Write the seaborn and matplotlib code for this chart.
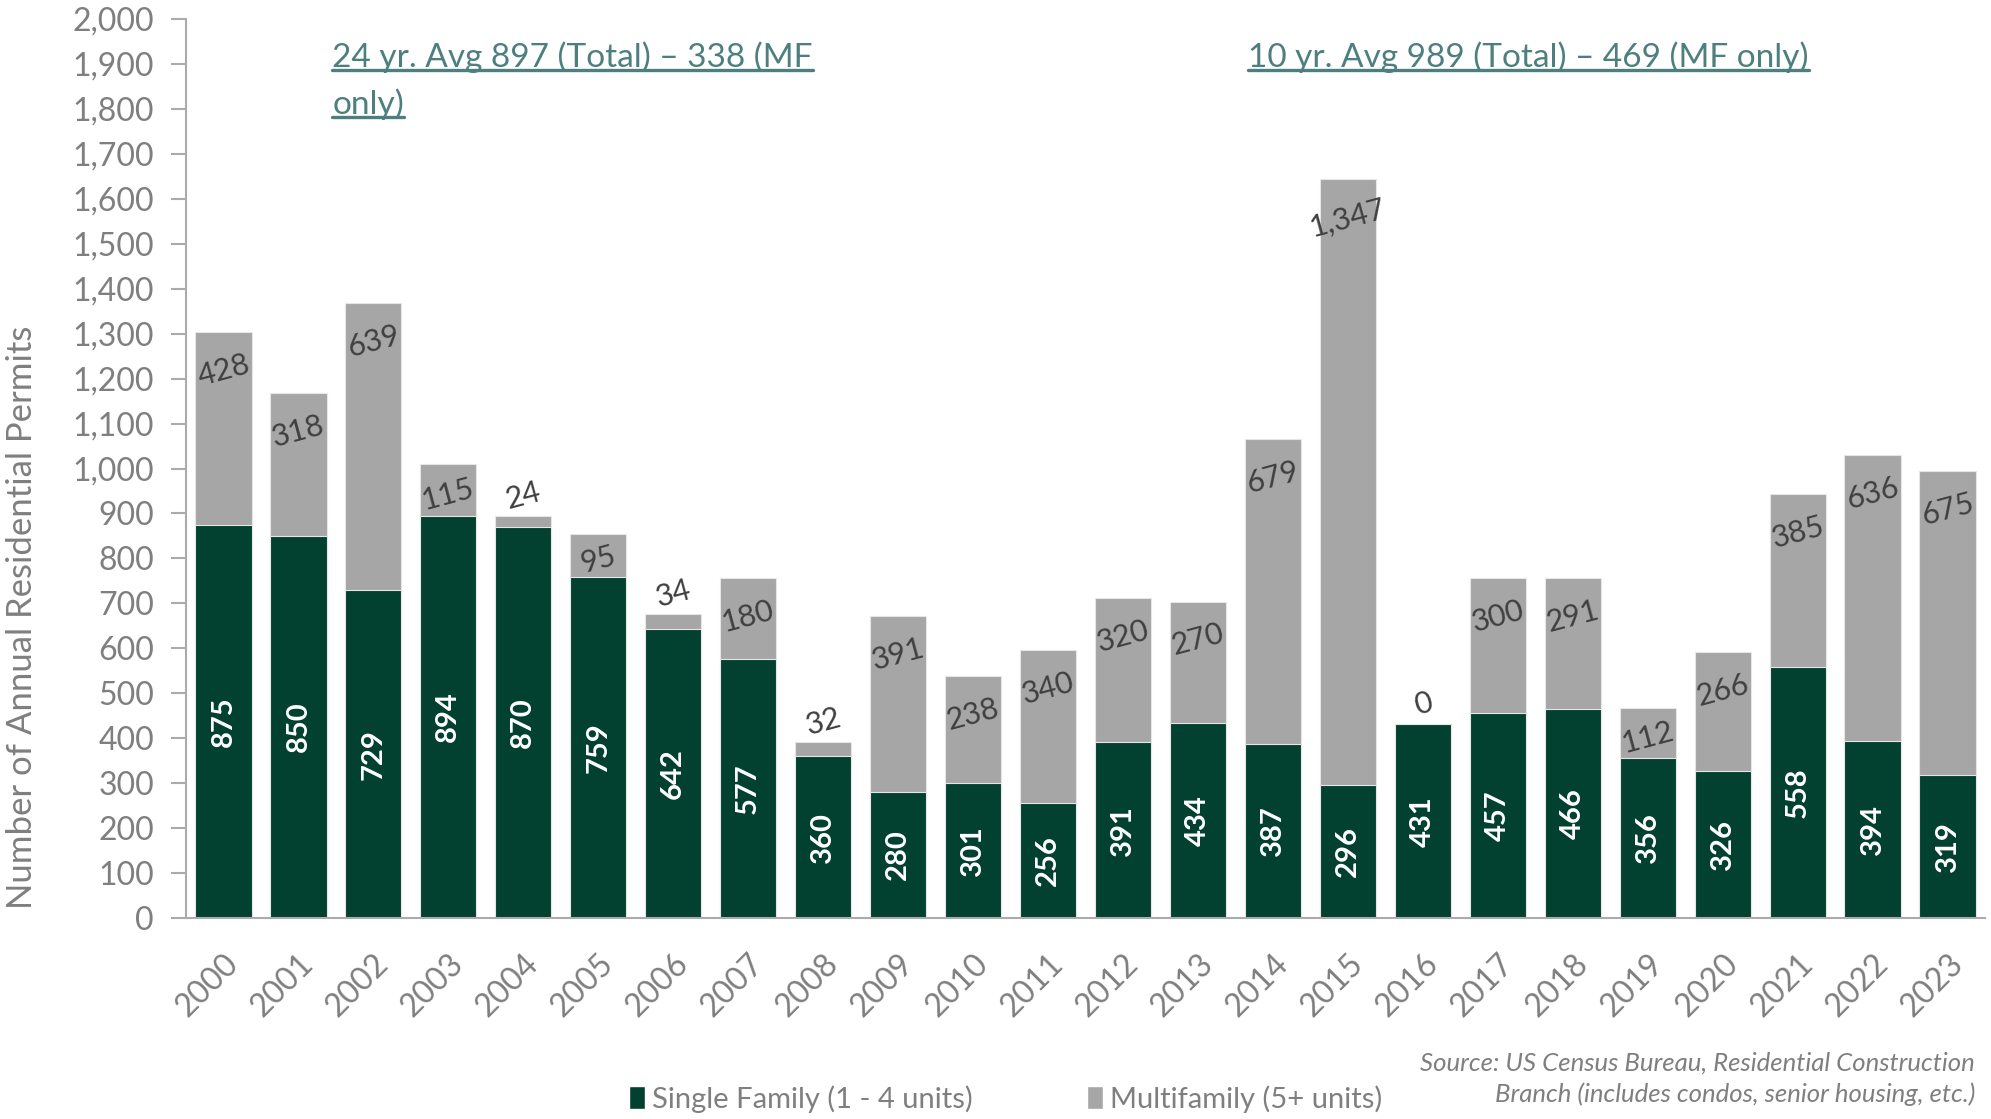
import numpy as np
import pandas as pd
import matplotlib
matplotlib.use("Agg")
import matplotlib.pyplot as plt
import seaborn as sns
from matplotlib.patches import Patch
from matplotlib.ticker import FuncFormatter, MultipleLocator

years = [str(y) for y in range(2000, 2024)]
single_family = [875, 850, 729, 894, 870, 759, 642, 577, 360, 280, 301, 256,
                 391, 434, 387, 296, 431, 457, 466, 356, 326, 558, 394, 319]
multifamily = [428, 318, 639, 115, 24, 95, 34, 180, 32, 391, 238, 340,
               320, 270, 679, 1347, 0, 300, 291, 112, 266, 385, 636, 675]

GREEN = "#02402F"
GRAY = "#A6A6A6"
TEXT_GRAY = "#7F7F7F"
TEAL = "#4E7F7F"

df = pd.DataFrame({"year": years, "sf": single_family, "mf": multifamily})
df["total"] = df["sf"] + df["mf"]

sns.set_style("white")
plt.rcParams["font.family"] = ["Lato", "DejaVu Sans"]

fig = plt.figure(figsize=(19.91, 11.19), dpi=100)
ax = fig.add_axes([0.0934, 0.1796, 0.9036, 0.8034])

sns.barplot(data=df, x="year", y="total", color=GRAY, saturation=1, width=0.75,
            edgecolor="#E6E6E6", linewidth=0.8, ax=ax)
sns.barplot(data=df, x="year", y="sf", color=GREEN, saturation=1, width=0.75,
            edgecolor="#E6E6E6", linewidth=0.8, ax=ax)

ax.set_xlim(-0.5, len(years) - 0.5)
ax.set_ylim(0, 2000)
ax.yaxis.set_major_locator(MultipleLocator(100))
ax.yaxis.set_major_formatter(FuncFormatter(lambda v, p: f"{int(v):,}"))

# single family labels, white, centered
sf_bars = ax.containers[1]
ax.bar_label(sf_bars, labels=[f"{v:,}" for v in single_family], label_type="center",
             rotation=90, color="white", fontweight="bold", fontsize=21)

# multifamily labels
tot_bars = ax.containers[0]
for bar, sf, mf in zip(tot_bars, single_family, multifamily):
    cx = bar.get_x() + bar.get_width() / 2
    top = sf + mf
    if mf >= 150:
        y = top - 85
    elif mf >= 90:
        y = sf + mf / 2 - 10
    else:
        y = top + 45
    ax.text(cx, y, f"{mf:,}", ha="center", va="center", rotation=15,
            color="#404040", fontsize=22)

# axes styling
for s in ["top", "right"]:
    ax.spines[s].set_visible(False)
for s in ["left", "bottom"]:
    ax.spines[s].set_color("#ABABAB")
    ax.spines[s].set_linewidth(1.5)

ax.set_xticks(np.arange(-0.5, len(years), 1.0), minor=True)
ax.tick_params(axis="x", which="major", length=0, pad=22, labelsize=23,
               labelcolor=TEXT_GRAY)
ax.tick_params(axis="x", which="minor", length=11, width=1.5, color="#ABABAB",
               direction="out")
ax.tick_params(axis="y", length=11, width=1.5, color="#ABABAB", direction="out",
               labelsize=23, labelcolor=TEXT_GRAY, left=True, pad=12)
plt.setp(ax.get_xticklabels(), rotation=45, ha="right", va="top",
         rotation_mode="anchor")

ax.set_xlabel("")
ax.set_ylabel("Number of Annual Residential Permits", fontsize=25, color=TEXT_GRAY)
ax.yaxis.set_label_coords(-0.082, 0.335)

# underlined averages
notes = [
    (0.167, 0.949, "24 yr. Avg 897 (Total) \u2013 338 (MF"),
    (0.167, 0.907, "only)"),
    (0.627, 0.949, "10 yr. Avg 989 (Total) \u2013 469 (MF only)"),
]
texts = [fig.text(x, y, s, color=TEAL, fontsize=24, ha="left", va="center")
         for x, y, s in notes]
fig.canvas.draw()
renderer = fig.canvas.get_renderer()
inv = fig.transFigure.inverted()
for t in texts:
    bb = t.get_window_extent(renderer)
    (x0, y0), (x1, y1) = inv.transform([(bb.x0, bb.y0), (bb.x1, bb.y1)])
    uy = y0 + (y1 - y0) * 0.08
    fig.add_artist(plt.Line2D([x0, x1], [uy, uy], transform=fig.transFigure,
                              color=TEAL, linewidth=2.4))

handles = [Patch(facecolor=GREEN, label="Single Family (1 - 4 units)"),
           Patch(facecolor=GRAY, label="Multifamily (5+ units)")]
fig.legend(handles=handles, loc="center", bbox_to_anchor=(0.505, 0.018), ncol=2,
           frameon=False, fontsize=21, labelcolor=TEXT_GRAY, handlelength=0.55,
           handleheight=0.8, handletextpad=0.25, columnspacing=3.9)

fig.text(0.992, 0.036,
         "Source: US Census Bureau, Residential Construction\n"
         "Branch (includes condos, senior housing, etc.)",
         ha="right", va="center", style="italic", fontsize=18.5,
         color=TEXT_GRAY, linespacing=1.4, multialignment="right")

fig.savefig("out.png", dpi=100)
